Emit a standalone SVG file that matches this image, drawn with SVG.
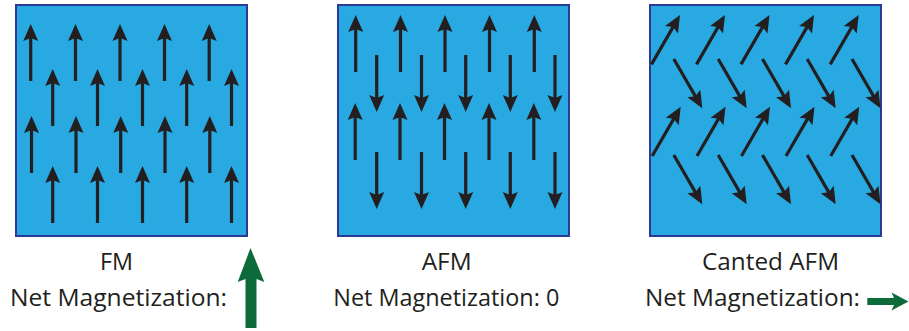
<svg xmlns="http://www.w3.org/2000/svg" xmlns:xlink="http://www.w3.org/1999/xlink" width="909" height="331" viewBox="0 0 909 331">
  <style>
    .panel { fill: #29a9e1; stroke: #2b3a94; stroke-width: 2; }
    .lbl { font-family: "Open Sans", "Liberation Sans", sans-serif; font-size: 23px; fill: #231f20; text-anchor: middle; }
    .net { fill: #0d6a3a; }
  </style>
  <defs>
    <!-- spin arrow: tip at origin, pointing up, length 57 -->
    <g id="spin">
      <line x1="0" y1="12" x2="0" y2="57" stroke="#231f20" stroke-width="3.2"/>
      <path d="M0,0 L7.5,17 L0,14 L-7.5,17 Z" fill="#231f20"/>
    </g>
    <clipPath id="clipC"><rect x="650" y="5" width="231" height="231"/></clipPath>
  </defs>

  <!-- ferromagnet -->
  <g id="fm">
    <rect class="panel" x="16" y="5" width="231" height="231"/>
    <use xlink:href="#spin" transform="translate(30.7,24)"/>
    <use xlink:href="#spin" transform="translate(75.5,24)"/>
    <use xlink:href="#spin" transform="translate(120,24)"/>
    <use xlink:href="#spin" transform="translate(164.5,24)"/>
    <use xlink:href="#spin" transform="translate(209.2,24)"/>
    <use xlink:href="#spin" transform="translate(52.7,69)"/>
    <use xlink:href="#spin" transform="translate(97.5,69)"/>
    <use xlink:href="#spin" transform="translate(142.5,69)"/>
    <use xlink:href="#spin" transform="translate(186.7,69)"/>
    <use xlink:href="#spin" transform="translate(231.5,69)"/>
    <use xlink:href="#spin" transform="translate(31.5,116)"/>
    <use xlink:href="#spin" transform="translate(76,116)"/>
    <use xlink:href="#spin" transform="translate(120.7,116)"/>
    <use xlink:href="#spin" transform="translate(165,116)"/>
    <use xlink:href="#spin" transform="translate(209.8,116)"/>
    <use xlink:href="#spin" transform="translate(52.7,166)"/>
    <use xlink:href="#spin" transform="translate(97.5,166)"/>
    <use xlink:href="#spin" transform="translate(142.5,166)"/>
    <use xlink:href="#spin" transform="translate(186.7,166)"/>
    <use xlink:href="#spin" transform="translate(231.5,166)"/>
  </g>
  <g id="fm-label">
    <text class="lbl" x="116.5" y="269.5" textLength="33" lengthAdjust="spacingAndGlyphs">FM</text>
    <text class="lbl" x="118.5" y="305.5" textLength="217" lengthAdjust="spacingAndGlyphs">Net Magnetization:</text>
    <path class="net" d="M250.5,248 L264.3,282 L256.5,279 L256.5,328 L245.5,328 L245.5,279 L237.7,282 Z"/>
  </g>

  <!-- antiferromagnet -->
  <g id="afm">
    <rect class="panel" x="338" y="5" width="231" height="231"/>
    <use xlink:href="#spin" transform="translate(355.7,15)"/>
    <use xlink:href="#spin" transform="translate(400.5,15)"/>
    <use xlink:href="#spin" transform="translate(445,15)"/>
    <use xlink:href="#spin" transform="translate(489.5,15)"/>
    <use xlink:href="#spin" transform="translate(534.3,15)"/>
    <use xlink:href="#spin" transform="translate(376.7,112) rotate(180)"/>
    <use xlink:href="#spin" transform="translate(421.5,112) rotate(180)"/>
    <use xlink:href="#spin" transform="translate(465.7,112) rotate(180)"/>
    <use xlink:href="#spin" transform="translate(510.3,112) rotate(180)"/>
    <use xlink:href="#spin" transform="translate(555,112) rotate(180)"/>
    <use xlink:href="#spin" transform="translate(355.2,103)"/>
    <use xlink:href="#spin" transform="translate(400,103)"/>
    <use xlink:href="#spin" transform="translate(444.5,103)"/>
    <use xlink:href="#spin" transform="translate(489,103)"/>
    <use xlink:href="#spin" transform="translate(533.8,103)"/>
    <use xlink:href="#spin" transform="translate(376.7,209) rotate(180)"/>
    <use xlink:href="#spin" transform="translate(421.5,209) rotate(180)"/>
    <use xlink:href="#spin" transform="translate(465.7,209) rotate(180)"/>
    <use xlink:href="#spin" transform="translate(510.3,209) rotate(180)"/>
    <use xlink:href="#spin" transform="translate(555,209) rotate(180)"/>
  </g>
  <g id="afm-label">
    <text class="lbl" x="446.7" y="269.5" textLength="50" lengthAdjust="spacingAndGlyphs">AFM</text>
    <text class="lbl" x="446.3" y="305.5" textLength="226" lengthAdjust="spacingAndGlyphs">Net Magnetization: 0</text>
  </g>

  <!-- canted antiferromagnet -->
  <g id="canted">
    <rect class="panel" x="650" y="5" width="231" height="231"/>
    <g clip-path="url(#clipC)">
      <use xlink:href="#spin" transform="translate(680,15) rotate(30)"/>
      <use xlink:href="#spin" transform="translate(725,15) rotate(30)"/>
      <use xlink:href="#spin" transform="translate(769.5,15) rotate(30)"/>
      <use xlink:href="#spin" transform="translate(814,15) rotate(30)"/>
      <use xlink:href="#spin" transform="translate(858.7,15) rotate(30)"/>
      <use xlink:href="#spin" transform="translate(702.3,108.3) rotate(150)"/>
      <use xlink:href="#spin" transform="translate(746.7,108.3) rotate(150)"/>
      <use xlink:href="#spin" transform="translate(791,108.3) rotate(150)"/>
      <use xlink:href="#spin" transform="translate(835.7,108.3) rotate(150)"/>
      <use xlink:href="#spin" transform="translate(880.5,108.3) rotate(150)"/>
      <use xlink:href="#spin" transform="translate(680.7,106.7) rotate(30)"/>
      <use xlink:href="#spin" transform="translate(725.5,106.7) rotate(30)"/>
      <use xlink:href="#spin" transform="translate(770,106.7) rotate(30)"/>
      <use xlink:href="#spin" transform="translate(814.5,106.7) rotate(30)"/>
      <use xlink:href="#spin" transform="translate(859.2,106.7) rotate(30)"/>
      <use xlink:href="#spin" transform="translate(702.3,204.3) rotate(150)"/>
      <use xlink:href="#spin" transform="translate(746.7,204.3) rotate(150)"/>
      <use xlink:href="#spin" transform="translate(791,204.3) rotate(150)"/>
      <use xlink:href="#spin" transform="translate(835.7,204.3) rotate(150)"/>
      <use xlink:href="#spin" transform="translate(880.5,204.3) rotate(150)"/>
    </g>
  </g>
  <g id="canted-label">
    <text class="lbl" x="770.5" y="269.5" textLength="137" lengthAdjust="spacingAndGlyphs">Canted AFM</text>
    <text class="lbl" x="752.5" y="305.5" textLength="215" lengthAdjust="spacingAndGlyphs">Net Magnetization:</text>
    <path class="net" d="M908.5,301.5 L891.5,310.5 L894,305 L867.3,305 L867.3,298 L894,298 L891.5,292.5 Z"/>
  </g>
</svg>
